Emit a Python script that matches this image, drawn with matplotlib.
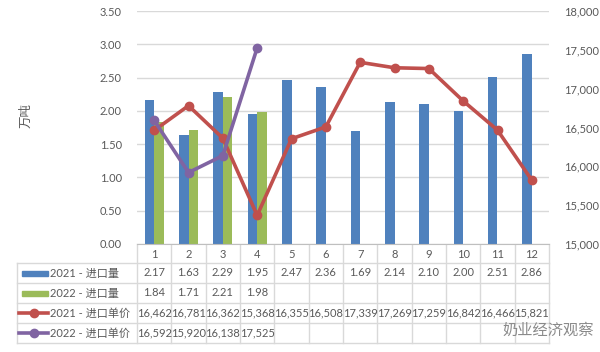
import matplotlib
matplotlib.use("Agg")
import matplotlib.pyplot as plt
from matplotlib.patches import Rectangle
from matplotlib.transforms import blended_transform_factory
import numpy as np

months = ["1", "2", "3", "4", "5", "6", "7", "8", "9", "10", "11", "12"]
vol_2021 = [2.17, 1.63, 2.29, 1.95, 2.47, 2.36, 1.69, 2.14, 2.10, 2.00, 2.51, 2.86]
vol_2022 = [1.84, 1.71, 2.21, 1.98]
price_2021 = [16462, 16781, 16362, 15368, 16355, 16508, 17339, 17269, 17259, 16842, 16466, 15821]
price_2022 = [16592, 15920, 16138, 17525]
series_names = ["2021 - 进口量", "2022 - 进口量", "2021 - 进口单价", "2022 - 进口单价"]
y_label = "万吨"
watermark = "奶业经济观察"

BLUE, GREEN, RED, PURPLE = "#4F81BD", "#9BBB59", "#C0504D", "#8064A2"
TXT = "#595959"
GRID = "#d9d9d9"
FONT = ["Lato", "Noto Sans CJK SC", "DejaVu Sans"]
plt.rcParams["font.family"] = FONT
FS = 8

W, H = 600, 352
fig = plt.figure(figsize=(W / 100, H / 100), dpi=100)
fig.patch.set_facecolor("white")

L, R, T, B = 137, 549, 11, 244
ax = fig.add_axes([L / W, 1 - B / H, (R - L) / W, (B - T) / H])
ax.set_xlim(-0.5, 11.5)
ax.set_ylim(0, 3.5)
ax.set_yticks(np.arange(0, 3.51, 0.5))
ax.set_yticklabels([f"{v:.2f}" for v in np.arange(0, 3.51, 0.5)])
ax.set_xticks([])
ax.yaxis.grid(True, color=GRID, lw=1)
ax.set_axisbelow(True)
for s in ["top", "left", "right"]:
    ax.spines[s].set_visible(False)
ax.spines["bottom"].set_color("#bfbfbf")
ax.tick_params(axis="y", length=0, pad=11, labelsize=FS, labelcolor=TXT)

x = np.arange(len(months))
bw = 0.28
ax.bar(x - bw / 2, vol_2021, bw, color=BLUE, zorder=2)
ax.bar(x[:len(vol_2022)] + bw / 2, vol_2022, bw, color=GREEN, zorder=2)

ax2 = ax.twinx()
ax2.set_ylim(15000, 18000)
ax2.set_yticks(np.arange(15000, 18001, 500))
ax2.set_yticklabels([f"{v:,}" for v in range(15000, 18001, 500)])
for s in ["top", "left", "right", "bottom"]:
    ax2.spines[s].set_visible(False)
ax2.tick_params(axis="y", length=0, pad=11, labelsize=FS, labelcolor=TXT)
ax2.plot(x, price_2021, color=RED, lw=2.6, marker="o", ms=6, zorder=3)
ax2.plot(x[:len(price_2022)], price_2022, color=PURPLE, lw=2.6, marker="o", ms=6, zorder=4)

fig.text(26 / W, 1 - 115 / H, y_label, rotation=90, ha="center", va="center",
         color=TXT, fontsize=9, family=["Noto Sans CJK SC"])

# ---- data table ----
tax = fig.add_axes([0, 0, 1, 1], zorder=-1)
tax.set_xlim(0, W)
tax.set_ylim(H, 0)
tax.axis("off")
bt = blended_transform_factory(ax.transData, tax.transData)

rows = [263, 283, 303, 323, 343]
TL = 17
for yy in rows:
    tax.plot([TL, R], [yy, yy], color=GRID, lw=1)
tax.plot([TL, TL], [rows[0], rows[-1]], color=GRID, lw=1)
for b in np.arange(-0.5, 12, 1.0):
    tax.plot([b, b], [B, rows[-1]], color=GRID, lw=1, transform=bt)

for i, m in enumerate(months):
    tax.text(i, 254, m, ha="center", va="center", fontsize=FS, color=TXT, transform=bt)

data_rows = [
    [f"{v:.2f}" for v in vol_2021],
    [f"{v:.2f}" for v in vol_2022],
    [f"{v:,}" for v in price_2021],
    [f"{v:,}" for v in price_2022],
]
for r, vals in enumerate(data_rows):
    yc = (rows[r] + rows[r + 1]) / 2
    for i, s in enumerate(vals):
        tax.text(i, yc, s, ha="center", va="center", fontsize=FS, color=TXT, transform=bt)

colors = [BLUE, GREEN, RED, PURPLE]
for r, name in enumerate(series_names):
    yc = (rows[r] + rows[r + 1]) / 2
    if r < 2:
        tax.add_patch(Rectangle((22, yc - 2.5), 26, 5, color=colors[r]))
    else:
        tax.plot([19, 48], [yc, yc], color=colors[r], lw=2.6)
        tax.plot([34], [yc], marker="o", ms=6, color=colors[r])
    tax.text(50, yc, name, ha="left", va="center", fontsize=FS, color=TXT)

fig.text(548 / W, 1 - 330 / H, watermark, ha="center", va="center", fontsize=11,
         color="#8a8a8a", family=["Noto Sans CJK SC"], zorder=10)

fig.savefig("out.png", dpi=100)
